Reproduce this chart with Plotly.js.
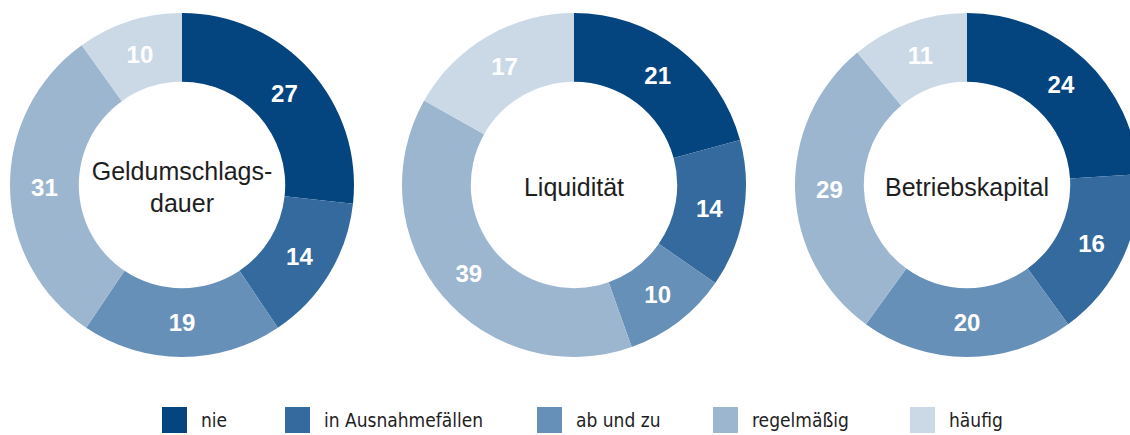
<!DOCTYPE html>
<html>
<head>
<meta charset="utf-8">
<script src="https://cdn.plot.ly/plotly-3.0.1.min.js"></script>
<style>
html, body { margin: 0; padding: 0; background: #ffffff; overflow: hidden; width: 1130px; height: 435px; }
#chart { width: 1150px; height: 435px; }
</style>
</head>
<body>
<div id="chart"></div>
<script>
// ---- data ----
const categories = ["nie", "in Ausnahmefällen", "ab und zu", "regelmäßig", "häufig"];
const chartTitles = ["Geldumschlags-<br>dauer", "Liquidität", "Betriebskapital"];
const geldumschlagsdauer = [27, 14, 19, 31, 10];
const liquiditaet = [21, 14, 10, 39, 17];
const betriebskapital = [24, 16, 20, 29, 11];

// ---- styles / layout ----
const colors = ["#04457f", "#346a9e", "#6790b9", "#9cb6d0", "#cbd9e6"];
const W = 1150, H = 435;
const R = 172;
const centersX = [182, 574, 967];
const centerY = 185;
const legendSquareX = [162, 285, 537, 713, 910];
const legendY = 420;

const series = [geldumschlagsdauer, liquiditaet, betriebskapital];

const traces = series.map((vals, i) => ({
  type: "pie",
  labels: categories,
  values: vals,
  sort: false,
  direction: "clockwise",
  rotation: 0,
  hole: 0.6,
  marker: { colors: colors, line: { width: 0 } },
  textinfo: "value",
  textposition: "inside",
  insidetextorientation: "horizontal",
  textfont: { family: "Liberation Sans, Arial, sans-serif", size: 24, color: "#ffffff", weight: "bold" },
  hoverinfo: "none",
  showlegend: false,
  title: { text: chartTitles[i], position: "middle center",
           font: { family: "Liberation Sans, Arial, sans-serif", size: 25, color: "#1e1e1e" } },
  domain: {
    x: [(centersX[i] - R) / W, (centersX[i] + R) / W],
    y: [1 - (centerY + R) / H, 1 - (centerY - R) / H]
  }
}));

const shapes = categories.map((c, i) => ({
  type: "rect", xref: "paper", yref: "paper",
  x0: legendSquareX[i] / W, x1: (legendSquareX[i] + 25) / W,
  y0: 1 - (legendY + 13) / H, y1: 1 - (legendY - 13) / H,
  fillcolor: colors[i], line: { width: 0 }
}));

const annotations = categories.map((c, i) => ({
  xref: "paper", yref: "paper",
  x: (legendSquareX[i] + 37) / W, y: 1 - legendY / H,
  xanchor: "left", yanchor: "middle",
  text: c, showarrow: false,
  font: { family: "DejaVu Sans Condensed, Roboto, sans-serif", size: 19, color: "#1e1e1e" }
}));

const layout = {
  width: W, height: H,
  margin: { l: 0, r: 0, t: 0, b: 0 },
  paper_bgcolor: "#ffffff",
  showlegend: false,
  shapes: shapes,
  annotations: annotations
};

Plotly.newPlot("chart", traces, layout, { displayModeBar: false, staticPlot: true });
</script>
</body>
</html>
